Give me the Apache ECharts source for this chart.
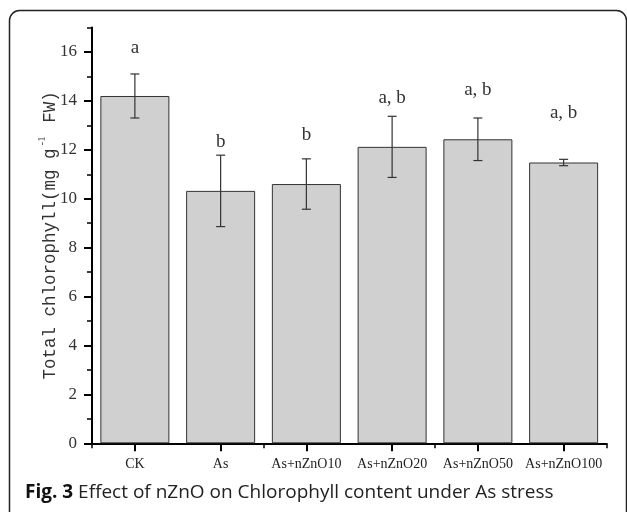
<!DOCTYPE html>
<html><head><meta charset="utf-8">
<script src="https://cdn.jsdelivr.net/npm/echarts@6/dist/echarts.min.js"></script>
<style>html,body{margin:0;padding:0;background:#fff}#c{width:627px;height:512px}</style>
</head><body><div id="c"></div>
<script>
const categories = ['CK', 'As', 'As+nZnO10', 'As+nZnO20', 'As+nZnO50', 'As+nZnO100'];
const means = [14.2, 10.32, 10.6, 12.12, 12.43, 11.48];
const errors = [0.9, 1.46, 1.03, 1.25, 0.87, 0.13];
const letters = ['a', 'b', 'b', 'a, b', 'a, b', 'a, b'];
const letterY = [16.17, 12.33, 12.6, 14.1, 14.44, 13.49];
const yMajorTicks = [0, 2, 4, 6, 8, 10, 12, 14, 16];
const yMinorTicks = [1, 3, 5, 7, 9, 11, 13, 15, 17];
const captionBold = 'Fig. 3';
const captionText = 'Effect of nZnO on Chlorophyll content under As stress';

const serif = 'Liberation Serif';
const mono = 'Liberation Mono';
const chart = echarts.init(document.getElementById('c'), null, {renderer: 'canvas'});

const errData = means.map((m, i) => [i, m - errors[i], m + errors[i]]);
const letterData = letters.map((t, i) => [i, letterY[i], t]);

chart.setOption({
  animation: false,
  backgroundColor: '#fff',
  grid: {left: 92, right: 20.5, top: 27.5, bottom: 68.7, containLabel: false},
  xAxis: [
    {
      type: 'category', data: categories, position: 'bottom',
      axisLine: {show: true, lineStyle: {color: '#000', width: 2}},
      axisTick: {show: true, alignWithLabel: true, length: 8, lineStyle: {color: '#000', width: 2}},
      axisLabel: {interval: 0, margin: 14, fontFamily: serif, fontSize: 14, color: '#222'}
    },
    {
      type: 'category', data: categories, position: 'bottom',
      axisLine: {show: false},
      axisTick: {show: true, length: 5, lineStyle: {color: '#000', width: 1.5}},
      axisLabel: {show: false}
    }
  ],
  yAxis: [
    {
      type: 'value', min: 0, max: 17, interval: 1, position: 'left',
      splitLine: {show: false},
      axisLine: {show: true, lineStyle: {color: '#000', width: 2}},
      axisTick: {show: true, customValues: yMajorTicks, length: 8, lineStyle: {color: '#000', width: 2}},
      axisLabel: {customValues: yMajorTicks, margin: 15, fontFamily: serif, fontSize: 17, color: '#333'},
      name: '{n|Total chlorophyll(mg g}{s|-1}{n| FW)}',
      nameLocation: 'middle', nameGap: 33, nameRotate: 90, nameMoveOverlap: false,
      nameTextStyle: {
        color: '#333',
        rich: {
          n: {fontFamily: mono, fontSize: 17.5, color: '#333', lineHeight: 22, verticalAlign: 'bottom'},
          s: {fontFamily: serif, fontSize: 11, color: '#333', lineHeight: 22, verticalAlign: 'top', padding: [0, 3, 0, 3]}
        }
      }
    },
    {
      type: 'value', min: 0, max: 17, interval: 1, position: 'left',
      splitLine: {show: false},
      axisLine: {show: false},
      axisTick: {show: true, customValues: yMinorTicks, length: 5, lineStyle: {color: '#000', width: 1.5}},
      axisLabel: {show: false}
    }
  ],
  graphic: [
    {
      type: 'rect', silent: true,
      shape: {x: 9.5, y: 10.5, width: 617, height: 620, r: 10},
      style: {fill: 'none', stroke: '#222', lineWidth: 1.5}
    },
    {
      type: 'text', left: 25, top: 483, silent: true,
      style: {
        text: '{b|' + captionBold + '}{t| ' + captionText + '}',
        rich: {
          b: {fontFamily: 'Open Sans', fontWeight: 'bold', fontSize: 19, fill: '#111'},
          t: {fontFamily: 'Open Sans', fontSize: 19, fill: '#222'}
        }
      }
    }
  ],
  series: [
    {
      type: 'bar', data: means, xAxisIndex: 0, yAxisIndex: 0,
      barWidth: '80.5%',
      itemStyle: {color: '#d0d0d0', borderColor: '#333', borderWidth: 1}
    },
    {
      type: 'custom', xAxisIndex: 0, yAxisIndex: 0, data: errData, z: 5,
      renderItem: function (params, api) {
        const x = api.value(0);
        const lo = api.coord([x, api.value(1)]);
        const hi = api.coord([x, api.value(2)]);
        const cap = 4.5;
        const st = {stroke: '#333', lineWidth: 1.2};
        return {
          type: 'group',
          children: [
            {type: 'line', shape: {x1: hi[0], y1: hi[1], x2: lo[0], y2: lo[1]}, style: st},
            {type: 'line', shape: {x1: hi[0] - cap, y1: hi[1], x2: hi[0] + cap, y2: hi[1]}, style: st},
            {type: 'line', shape: {x1: lo[0] - cap, y1: lo[1], x2: lo[0] + cap, y2: lo[1]}, style: st}
          ]
        };
      }
    },
    {
      type: 'custom', xAxisIndex: 0, yAxisIndex: 0, data: letterData, z: 6,
      renderItem: function (params, api) {
        const p = api.coord([api.value(0), api.value(1)]);
        return {
          type: 'text',
          x: p[0], y: p[1],
          style: {
            text: letters[params.dataIndex],
            fontFamily: serif, fontSize: 19, fill: '#333',
            align: 'center', verticalAlign: 'middle'
          }
        };
      }
    }
  ]
});
</script>
</body></html>
